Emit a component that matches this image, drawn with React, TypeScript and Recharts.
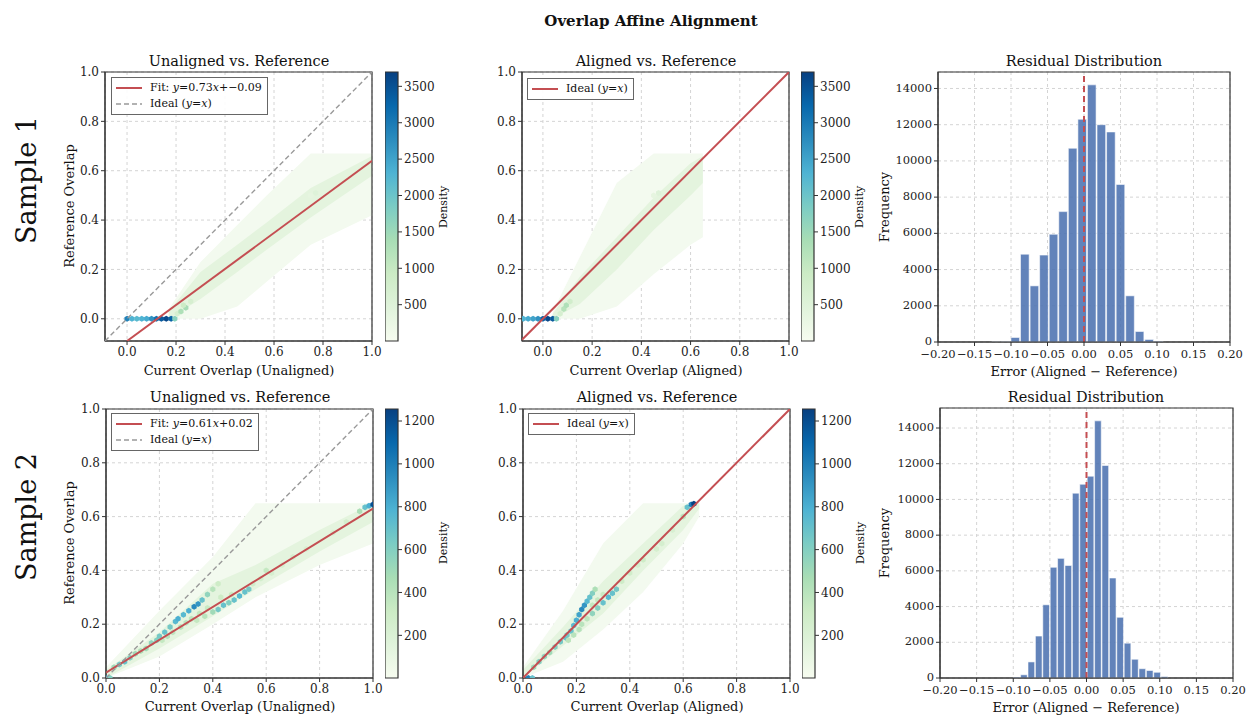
import React from 'react'
import {
  ComposedChart,
  Area,
  Bar,
  Scatter,
  XAxis,
  YAxis,
  CartesianGrid,
  ReferenceLine,
  ReferenceArea,
} from 'recharts'

const FONT = '"DejaVu Serif", "Liberation Serif", serif'

// ---------- data ----------

// axis ticks
const overlapTicks = [0, 0.2, 0.4, 0.6, 0.8, 1.0]
const errorTicks = [-0.2, -0.15, -0.1, -0.05, 0, 0.05, 0.1, 0.15, 0.2]
const freqTicks = [0, 2000, 4000, 6000, 8000, 10000, 12000, 14000]
const cbTicks1 = [500, 1000, 1500, 2000, 2500, 3000, 3500]
const cbTicks2 = [200, 400, 600, 800, 1000, 1200]
const cbMax1 = 3697
const cbMax2 = 1256

// Sample 1 – unaligned: diffuse density bands
const s1uBandX = [0.17, 0.3, 0.45, 0.57, 0.75, 1.0]
const s1uOuterLo = [0.0, 0.0, 0.05, 0.15, 0.3, 0.42]
const s1uOuterHi = [0.04, 0.23, 0.38, 0.5, 0.67, 0.67]
const s1uCoreLo = [0.0, 0.08, 0.19, 0.28, 0.41, 0.58]
const s1uCoreHi = [0.03, 0.19, 0.3, 0.39, 0.53, 0.66]
// Sample 1 – unaligned: dense hex cells
const s1uHexX = [0, 0.02, 0.04, 0.06, 0.08, 0.1, 0.12, 0.14, 0.16, 0.18, 0.195, 0.205, 0.22, 0.24, 0.23, 0.26, 0.77, 0.75]
const s1uHexY = [0, 0, 0, 0, 0, 0, 0, 0, 0, 0, 0, 0.02, 0.03, 0.045, 0.055, 0.07, 0.51, 0.5]
const s1uHexN = [2900, 2300, 2200, 2300, 2400, 2700, 3100, 3400, 3600, 3300, 1700, 700, 1300, 1400, 900, 700, 500, 350]

// Sample 1 – aligned
const s1aBandX = [0.04, 0.15, 0.3, 0.45, 0.6, 0.65]
const s1aOuterLo = [0.0, 0.0, 0.05, 0.18, 0.3, 0.33]
const s1aOuterHi = [0.03, 0.25, 0.55, 0.67, 0.67, 0.67]
const s1aCoreLo = [0.0, 0.06, 0.2, 0.36, 0.5, 0.55]
const s1aCoreHi = [0.02, 0.17, 0.33, 0.49, 0.63, 0.66]
const s1aHexX = [-0.08, -0.06, -0.04, -0.02, 0, 0.02, 0.04, 0.055, 0.07, 0.085, 0.095, 0.11, 0.47, 0.45]
const s1aHexY = [0, 0, 0, 0, 0, 0, 0, 0, 0.02, 0.04, 0.055, 0.07, 0.51, 0.5]
const s1aHexN = [2300, 2400, 2500, 2700, 3300, 3600, 3400, 1700, 700, 1200, 1300, 800, 500, 350]

// Sample 2 – unaligned
const s2uBandX = [0, 0.2, 0.4, 0.56, 0.8, 1.0]
const s2uOuterLo = [0, 0.08, 0.2, 0.3, 0.42, 0.5]
const s2uOuterHi = [0.04, 0.25, 0.45, 0.65, 0.65, 0.65]
const s2uCoreLo = [0, 0.11, 0.23, 0.33, 0.47, 0.58]
const s2uCoreHi = [0.03, 0.17, 0.35, 0.42, 0.55, 0.65]
const s2uHexX = [0.0, 0.015, 0.03, 0.05, 0.07, 0.09, 0.11, 0.13, 0.15, 0.17, 0.19, 0.2, 0.22, 0.24, 0.26, 0.27, 0.29, 0.31, 0.33, 0.345, 0.36, 0.38, 0.4, 0.42, 0.34, 0.37, 0.4, 0.42, 0.44, 0.46, 0.48, 0.5, 0.52, 0.535, 0.6, 0.7, 0.95, 0.97, 0.985, 1.0,
  0.21, 0.23, 0.25, 0.28, 0.3, 0.32, 0.35, 0.38, 0.43, 0.47, 0.55, 0.58, 0.62, 0.66, 0.75, 0.85, 0.9]
const s2uHexY = [0.0, 0.0, 0.04, 0.05, 0.06, 0.075, 0.09, 0.1, 0.11, 0.13, 0.14, 0.155, 0.17, 0.19, 0.21, 0.22, 0.235, 0.25, 0.265, 0.275, 0.29, 0.31, 0.33, 0.35, 0.215, 0.23, 0.245, 0.255, 0.27, 0.28, 0.29, 0.305, 0.32, 0.33, 0.4, 0.45, 0.62, 0.635, 0.64, 0.645,
  0.14, 0.155, 0.17, 0.19, 0.205, 0.22, 0.24, 0.26, 0.3, 0.31, 0.35, 0.37, 0.39, 0.42, 0.48, 0.54, 0.58]
const s2uHexN = [900, 600, 500, 650, 700, 600, 500, 450, 500, 550, 600, 650, 700, 650, 750, 800, 750, 800, 950, 900, 700, 550, 400, 300, 350, 400, 500, 650, 700, 600, 700, 750, 700, 650, 350, 250, 450, 700, 800, 1200,
  350, 400, 380, 420, 400, 380, 350, 330, 300, 320, 280, 260, 240, 230, 220, 230, 260]

// Sample 2 – aligned
const s2aBandX = [0, 0.15, 0.3, 0.45, 0.6, 0.66]
const s2aOuterLo = [0, 0.06, 0.18, 0.32, 0.5, 0.6]
const s2aOuterHi = [0.04, 0.25, 0.5, 0.65, 0.65, 0.65]
const s2aCoreLo = [0, 0.12, 0.24, 0.4, 0.55, 0.63]
const s2aCoreHi = [0.03, 0.19, 0.36, 0.5, 0.64, 0.65]
const s2aHexX = [0.02, 0.035, 0.04, 0.06, 0.08, 0.1, 0.12, 0.14, 0.16, 0.165, 0.18, 0.19, 0.2, 0.21, 0.22, 0.23, 0.24, 0.25, 0.26, 0.27, 0.26, 0.28, 0.3, 0.32, 0.335, 0.35, 0.45, 0.52, 0.6, 0.615, 0.63, 0.64,
  0.17, 0.19, 0.21, 0.22, 0.24, 0.26, 0.28, 0.3, 0.37, 0.4, 0.43, 0.5, 0.56]
const s2aHexY = [0.0, 0.0, 0.04, 0.06, 0.08, 0.095, 0.115, 0.135, 0.15, 0.16, 0.175, 0.195, 0.215, 0.235, 0.255, 0.27, 0.285, 0.3, 0.315, 0.33, 0.24, 0.26, 0.28, 0.3, 0.315, 0.33, 0.44, 0.5, 0.6, 0.635, 0.645, 0.648,
  0.14, 0.16, 0.18, 0.2, 0.22, 0.27, 0.29, 0.31, 0.36, 0.39, 0.42, 0.48, 0.55]
const s2aHexN = [1000, 700, 500, 600, 550, 500, 600, 650, 700, 650, 700, 750, 800, 850, 950, 900, 750, 700, 600, 450, 550, 600, 700, 750, 700, 650, 300, 250, 400, 700, 1000, 1250,
  380, 400, 420, 400, 380, 350, 350, 320, 300, 280, 260, 240, 230]

// fit lines (endpoints at x = 0 and x = 1)
const s1Fit = [[0, -0.09], [1, 0.64]]
const s2Fit = [[0, 0.02], [1, 0.63]]

// residual histograms
const s1BinCenters = [-0.1197, -0.1066, -0.0935, -0.0804, -0.0673, -0.0542, -0.0411, -0.028, -0.0149, -0.0018, 0.0113, 0.0244, 0.0375, 0.0506, 0.0637, 0.0768, 0.0899, 0.103]
const s1BinCounts = [15, 30, 250, 4850, 3100, 4800, 5950, 7200, 10700, 12300, 14200, 12000, 11600, 8700, 2550, 580, 140, 40]
const s1BinWidth = 0.0131
const s2BinCenters = [-0.095, -0.0849, -0.0748, -0.0647, -0.0546, -0.0445, -0.0344, -0.0243, -0.0142, -0.0041, 0.006, 0.0161, 0.0262, 0.0363, 0.0464, 0.0565, 0.0666, 0.0767, 0.0868, 0.0969, 0.107]
const s2BinCounts = [50, 180, 900, 2350, 4100, 6200, 6700, 6300, 10350, 10850, 11300, 14400, 11900, 5600, 3400, 1950, 1050, 520, 420, 320, 80]
const s2BinWidth = 0.0101

// ---------- helpers ----------

const GNBU = ['#f7fcf0', '#e0f3db', '#ccebc5', '#a8ddb5', '#7bccc4', '#4eb3d3', '#2b8cbe', '#0868ac', '#084081']
const RED = '#c44e52'

function hex2rgb(h: string) {
  return [1, 3, 5].map((i) => parseInt(h.slice(i, i + 2), 16))
}

function gnbu(t: number) {
  const v = Math.max(0, Math.min(1, t)) * (GNBU.length - 1)
  const i = Math.min(GNBU.length - 2, Math.floor(v))
  const f = v - i
  const a = hex2rgb(GNBU[i])
  const b = hex2rgb(GNBU[i + 1])
  const c = a.map((ai, k) => Math.round(ai + (b[k] - ai) * f))
  return `rgb(${c[0]},${c[1]},${c[2]})`
}

const fmt1 = (v: number) => v.toFixed(1)
const fmtErr = (v: number) => (v < 0 ? '\u2212' : '') + Math.abs(v).toFixed(2)

const tickStyle = { fontSize: 12, fill: '#222', fontFamily: FONT }
const histTickStyle = { fontSize: 11.5, fill: '#222', fontFamily: FONT }
const axisStroke = { stroke: '#333' }

function bandRows(x: number[], oLo: number[], oHi: number[], cLo: number[], cHi: number[]) {
  return x.map((xv, i) => ({ x: xv, outer: [oLo[i], oHi[i]], core: [cLo[i], cHi[i]] }))
}

function hexRows(x: number[], y: number[], n: number[]) {
  return x.map((xv, i) => ({ x: xv, y: y[i], n: n[i] }))
}

function hexShape(vmax: number) {
  return (props: any) => {
    const { cx, cy, payload } = props
    if (cx == null || cy == null) return <g />
    const r = 3
    const pts = [0, 1, 2, 3, 4, 5]
      .map((i) => {
        const a = (Math.PI / 180) * (60 * i - 90)
        return `${cx + r * Math.cos(a)},${cy + r * Math.sin(a)}`
      })
      .join(' ')
    return <polygon points={pts} fill={gnbu(payload.n / vmax)} />
  }
}

const noDot = () => <g />

// ---------- pieces ----------

const PW = 267
const PH = 269

interface DensityProps {
  left: number
  top: number
  xMin: number
  yMin: number
  rows: any[]
  hexes: any[]
  vmax: number
  fit?: number[][]
  idealDashed: boolean
}

function DensityPanel({ left, top, xMin, yMin, rows, hexes, vmax, fit, idealDashed }: DensityProps) {
  const lo = Math.max(xMin, yMin)
  const ideal = [
    { x: lo, y: lo },
    { x: 1, y: 1 },
  ]
  const fitPts = fit ? fit.map((p) => ({ x: p[0], y: p[1] })) : []
  return (
    <div style={{ position: 'absolute', left: left - 40, top: top - 10 }}>
      <ComposedChart
        width={PW + 50}
        height={PH + 35}
        data={rows}
        margin={{ top: 10, right: 10, bottom: 0, left: 0 }}
      >
        <XAxis
          type="number"
          dataKey="x"
          domain={[xMin, 1]}
          ticks={overlapTicks}
          tickFormatter={fmt1}
          allowDataOverflow
          height={25}
          tick={tickStyle}
          tickLine={axisStroke}
          axisLine={axisStroke}
          tickSize={4}
        />
        <YAxis
          type="number"
          domain={[yMin, 1]}
          ticks={overlapTicks}
          tickFormatter={fmt1}
          allowDataOverflow
          width={40}
          tick={tickStyle}
          tickLine={axisStroke}
          axisLine={axisStroke}
          tickSize={4}
        />
        <Area
          type="linear"
          dataKey="outer"
          stroke="none"
          fill="#f3faef"
          fillOpacity={1}
          dot={false}
          activeDot={false}
          isAnimationActive={false}
        />
        <Area
          type="linear"
          dataKey="core"
          stroke="none"
          fill="#e4f4de"
          fillOpacity={1}
          dot={false}
          activeDot={false}
          isAnimationActive={false}
        />
        <CartesianGrid stroke="#d4d4d4" strokeDasharray="3 3" />
        <Scatter data={hexes} dataKey="y" shape={hexShape(vmax)} isAnimationActive={false} />
        {fit && (
          <Scatter
            data={fitPts}
            dataKey="y"
            shape={noDot}
            line={{ stroke: RED, strokeWidth: 2 }}
            isAnimationActive={false}
          />
        )}
        <Scatter
          data={ideal}
          dataKey="y"
          shape={noDot}
          line={
            idealDashed
              ? { stroke: '#999', strokeWidth: 1.4, strokeDasharray: '5 3' }
              : { stroke: RED, strokeWidth: 2 }
          }
          isAnimationActive={false}
        />
        <ReferenceArea
          x1={xMin}
          x2={1}
          y1={yMin}
          y2={1}
          fill="none"
          stroke="#333"
          strokeWidth={1.2}
          ifOverflow="visible"
        />
      </ComposedChart>
    </div>
  )
}

function ColorBar({ left, top, max, ticks, id }: { left: number; top: number; max: number; ticks: number[]; id: string }) {
  const rows = [
    { x: 0, v: [1, max] },
    { x: 1, v: [1, max] },
  ]
  return (
    <div style={{ position: 'absolute', left, top: top - 10 }}>
      <ComposedChart
        width={13 + 45}
        height={PH + 20}
        data={rows}
        margin={{ top: 10, right: 0, bottom: 10, left: 0 }}
      >
        <defs>
          <linearGradient id={id} x1="0" y1="1" x2="0" y2="0">
            {GNBU.map((c, i) => (
              <stop key={i} offset={i / (GNBU.length - 1)} stopColor={c} />
            ))}
          </linearGradient>
        </defs>
        <XAxis type="number" dataKey="x" domain={[0, 1]} hide />
        <YAxis
          orientation="right"
          type="number"
          domain={[1, max]}
          ticks={ticks}
          width={45}
          tick={tickStyle}
          tickLine={axisStroke}
          axisLine={false}
          tickSize={4}
        />
        <Area
          type="linear"
          dataKey="v"
          stroke="none"
          fill={`url(#${id})`}
          fillOpacity={1}
          dot={false}
          activeDot={false}
          isAnimationActive={false}
        />
        <ReferenceArea x1={0} x2={1} y1={1} y2={max} fill="none" stroke="#333" strokeWidth={1.2} ifOverflow="visible" />
      </ComposedChart>
    </div>
  )
}

interface HistProps {
  left: number
  top: number
  width: number
  centers: number[]
  counts: number[]
  binWidth: number
  yMax: number
}

function HistPanel({ left, top, width, centers, counts, binWidth, yMax }: HistProps) {
  const rows = centers.map((x, i) => ({ x, n: counts[i] }))
  const barPx = (binWidth * width) / 0.4
  return (
    <div style={{ position: 'absolute', left: left - 45, top: top - 10 }}>
      <ComposedChart
        width={width + 65}
        height={270 + 37}
        data={rows}
        margin={{ top: 10, right: 20, bottom: 0, left: 0 }}
      >
        <CartesianGrid stroke="#d4d4d4" strokeDasharray="3 3" />
        <XAxis
          type="number"
          dataKey="x"
          domain={[-0.2, 0.2]}
          ticks={errorTicks}
          tickFormatter={fmtErr}
          allowDataOverflow
          height={27}
          tick={{ ...histTickStyle, dy: 2 }}
          tickLine={axisStroke}
          axisLine={axisStroke}
          tickSize={4}
          interval={0}
        />
        <YAxis
          type="number"
          domain={[0, yMax]}
          ticks={freqTicks}
          allowDataOverflow
          width={45}
          tick={{ ...histTickStyle, dy: -1 }}
          tickLine={axisStroke}
          axisLine={axisStroke}
          tickSize={4}
        />
        <Bar
          dataKey="n"
          barSize={barPx}
          fill="#4c72b0"
          fillOpacity={0.88}
          stroke="#ffffff"
          strokeWidth={0.8}
          strokeOpacity={0.7}
          isAnimationActive={false}
        />
        <ReferenceLine x={0} stroke={RED} strokeWidth={2} strokeDasharray="6 4" />
        <ReferenceArea x1={-0.2} x2={0.2} y1={0} y2={yMax} fill="none" stroke="#333" strokeWidth={1.2} ifOverflow="visible" />
      </ComposedChart>
    </div>
  )
}

function Txt({ x, y, size, children, rotate, bold }: { x: number; y: number; size: number; children: React.ReactNode; rotate?: boolean; bold?: boolean }) {
  return (
    <div
      style={{
        position: 'absolute',
        left: x,
        top: y,
        transform: `translate(-50%, -50%)${rotate ? ' rotate(-90deg)' : ''}`,
        fontSize: size,
        fontWeight: bold ? 'bold' : 'normal',
        whiteSpace: 'nowrap',
        lineHeight: 1,
        color: '#111',
      }}
    >
      {children}
    </div>
  )
}

function Swatch({ color, dashed }: { color: string; dashed?: boolean }) {
  return (
    <svg width={26} height={8} style={{ display: 'block', marginRight: 8 }}>
      <line
        x1={0}
        y1={4}
        x2={26}
        y2={4}
        stroke={color}
        strokeWidth={dashed ? 1.4 : 2}
        strokeDasharray={dashed ? '5 3' : undefined}
      />
    </svg>
  )
}

function LegendBox({ left, top, items }: { left: number; top: number; items: { label: React.ReactNode; color: string; dashed?: boolean }[] }) {
  return (
    <div
      style={{
        position: 'absolute',
        left,
        top,
        border: '1px solid #666',
        background: 'rgba(255,255,255,0.9)',
        padding: '2px 5px 2px 4px',
        fontSize: 11,
        lineHeight: '16px',
      }}
    >
      {items.map((it, i) => (
        <div key={i} style={{ display: 'flex', alignItems: 'center' }}>
          <Swatch color={it.color} dashed={it.dashed} />
          <span>{it.label}</span>
        </div>
      ))}
    </div>
  )
}

const idealLabel = (
  <>
    Ideal (<i>y</i>=<i>x</i>)
  </>
)

export default function App() {
  const r1 = 72
  const r2 = 409
  return (
    <div
      style={{
        position: 'absolute',
        left: 0,
        top: 0,
        width: 1247,
        height: 718,
        background: '#fff',
        fontFamily: FONT,
        color: '#111',
        overflow: 'hidden',
      }}
    >
      <Txt x={651} y={21} size={15} bold>
        Overlap Affine Alignment
      </Txt>

      <Txt x={26} y={180} size={27} rotate>
        Sample 1
      </Txt>
      <Txt x={26} y={517} size={27} rotate>
        Sample 2
      </Txt>

      {/* row 1 */}
      <Txt x={239} y={61} size={14.5}>Unaligned vs. Reference</Txt>
      <Txt x={656} y={61} size={14.5}>Aligned vs. Reference</Txt>
      <Txt x={1084} y={61} size={14.5}>Residual Distribution</Txt>

      <DensityPanel
        left={105}
        top={r1}
        xMin={-0.09}
        yMin={-0.09}
        rows={bandRows(s1uBandX, s1uOuterLo, s1uOuterHi, s1uCoreLo, s1uCoreHi)}
        hexes={hexRows(s1uHexX, s1uHexY, s1uHexN)}
        vmax={cbMax1}
        fit={s1Fit}
        idealDashed
      />
      <ColorBar left={385} top={r1} max={cbMax1} ticks={cbTicks1} id="cb1a" />
      <DensityPanel
        left={522}
        top={r1}
        xMin={-0.085}
        yMin={-0.09}
        rows={bandRows(s1aBandX, s1aOuterLo, s1aOuterHi, s1aCoreLo, s1aCoreHi)}
        hexes={hexRows(s1aHexX, s1aHexY, s1aHexN)}
        vmax={cbMax1}
        idealDashed={false}
      />
      <ColorBar left={801} top={r1} max={cbMax1} ticks={cbTicks1} id="cb1b" />
      <HistPanel left={938} top={r1} width={292} centers={s1BinCenters} counts={s1BinCounts} binWidth={s1BinWidth} yMax={14910} />

      <LegendBox
        left={111}
        top={77}
        items={[
          { label: <>Fit: <i>y</i>=0.73<i>x</i>+&minus;0.09</>, color: RED },
          { label: idealLabel, color: '#999', dashed: true },
        ]}
      />
      <LegendBox left={527} top={78} items={[{ label: idealLabel, color: RED }]} />

      <Txt x={239} y={370} size={13}>Current Overlap (Unaligned)</Txt>
      <Txt x={656} y={370} size={13}>Current Overlap (Aligned)</Txt>
      <Txt x={1084} y={371} size={13}>Error (Aligned &minus; Reference)</Txt>
      <Txt x={69} y={206} size={13} rotate>Reference Overlap</Txt>
      <Txt x={884} y={207} size={13} rotate>Frequency</Txt>
      <Txt x={443} y={207} size={11} rotate>Density</Txt>
      <Txt x={859} y={207} size={11} rotate>Density</Txt>

      {/* row 2 */}
      <Txt x={240} y={397} size={14.5}>Unaligned vs. Reference</Txt>
      <Txt x={657} y={397} size={14.5}>Aligned vs. Reference</Txt>
      <Txt x={1086} y={397} size={14.5}>Residual Distribution</Txt>

      <DensityPanel
        left={106}
        top={r2}
        xMin={0}
        yMin={0}
        rows={bandRows(s2uBandX, s2uOuterLo, s2uOuterHi, s2uCoreLo, s2uCoreHi)}
        hexes={hexRows(s2uHexX, s2uHexY, s2uHexN)}
        vmax={cbMax2}
        fit={s2Fit}
        idealDashed
      />
      <ColorBar left={385} top={r2} max={cbMax2} ticks={cbTicks2} id="cb2a" />
      <DensityPanel
        left={523}
        top={r2}
        xMin={0}
        yMin={0}
        rows={bandRows(s2aBandX, s2aOuterLo, s2aOuterHi, s2aCoreLo, s2aCoreHi)}
        hexes={hexRows(s2aHexX, s2aHexY, s2aHexN)}
        vmax={cbMax2}
        idealDashed={false}
      />
      <ColorBar left={802} top={r2} max={cbMax2} ticks={cbTicks2} id="cb2b" />
      <HistPanel left={940} top={408} width={293} centers={s2BinCenters} counts={s2BinCounts} binWidth={s2BinWidth} yMax={15120} />

      <LegendBox
        left={111}
        top={413}
        items={[
          { label: <>Fit: <i>y</i>=0.61<i>x</i>+0.02</>, color: RED },
          { label: idealLabel, color: '#999', dashed: true },
        ]}
      />
      <LegendBox left={528} top={413} items={[{ label: idealLabel, color: RED }]} />

      <Txt x={240} y={706} size={13}>Current Overlap (Unaligned)</Txt>
      <Txt x={657} y={706} size={13}>Current Overlap (Aligned)</Txt>
      <Txt x={1086} y={707} size={13}>Error (Aligned &minus; Reference)</Txt>
      <Txt x={69} y={543} size={13} rotate>Reference Overlap</Txt>
      <Txt x={884} y={543} size={13} rotate>Frequency</Txt>
      <Txt x={443} y={543} size={11} rotate>Density</Txt>
      <Txt x={860} y={543} size={11} rotate>Density</Txt>
    </div>
  )
}
